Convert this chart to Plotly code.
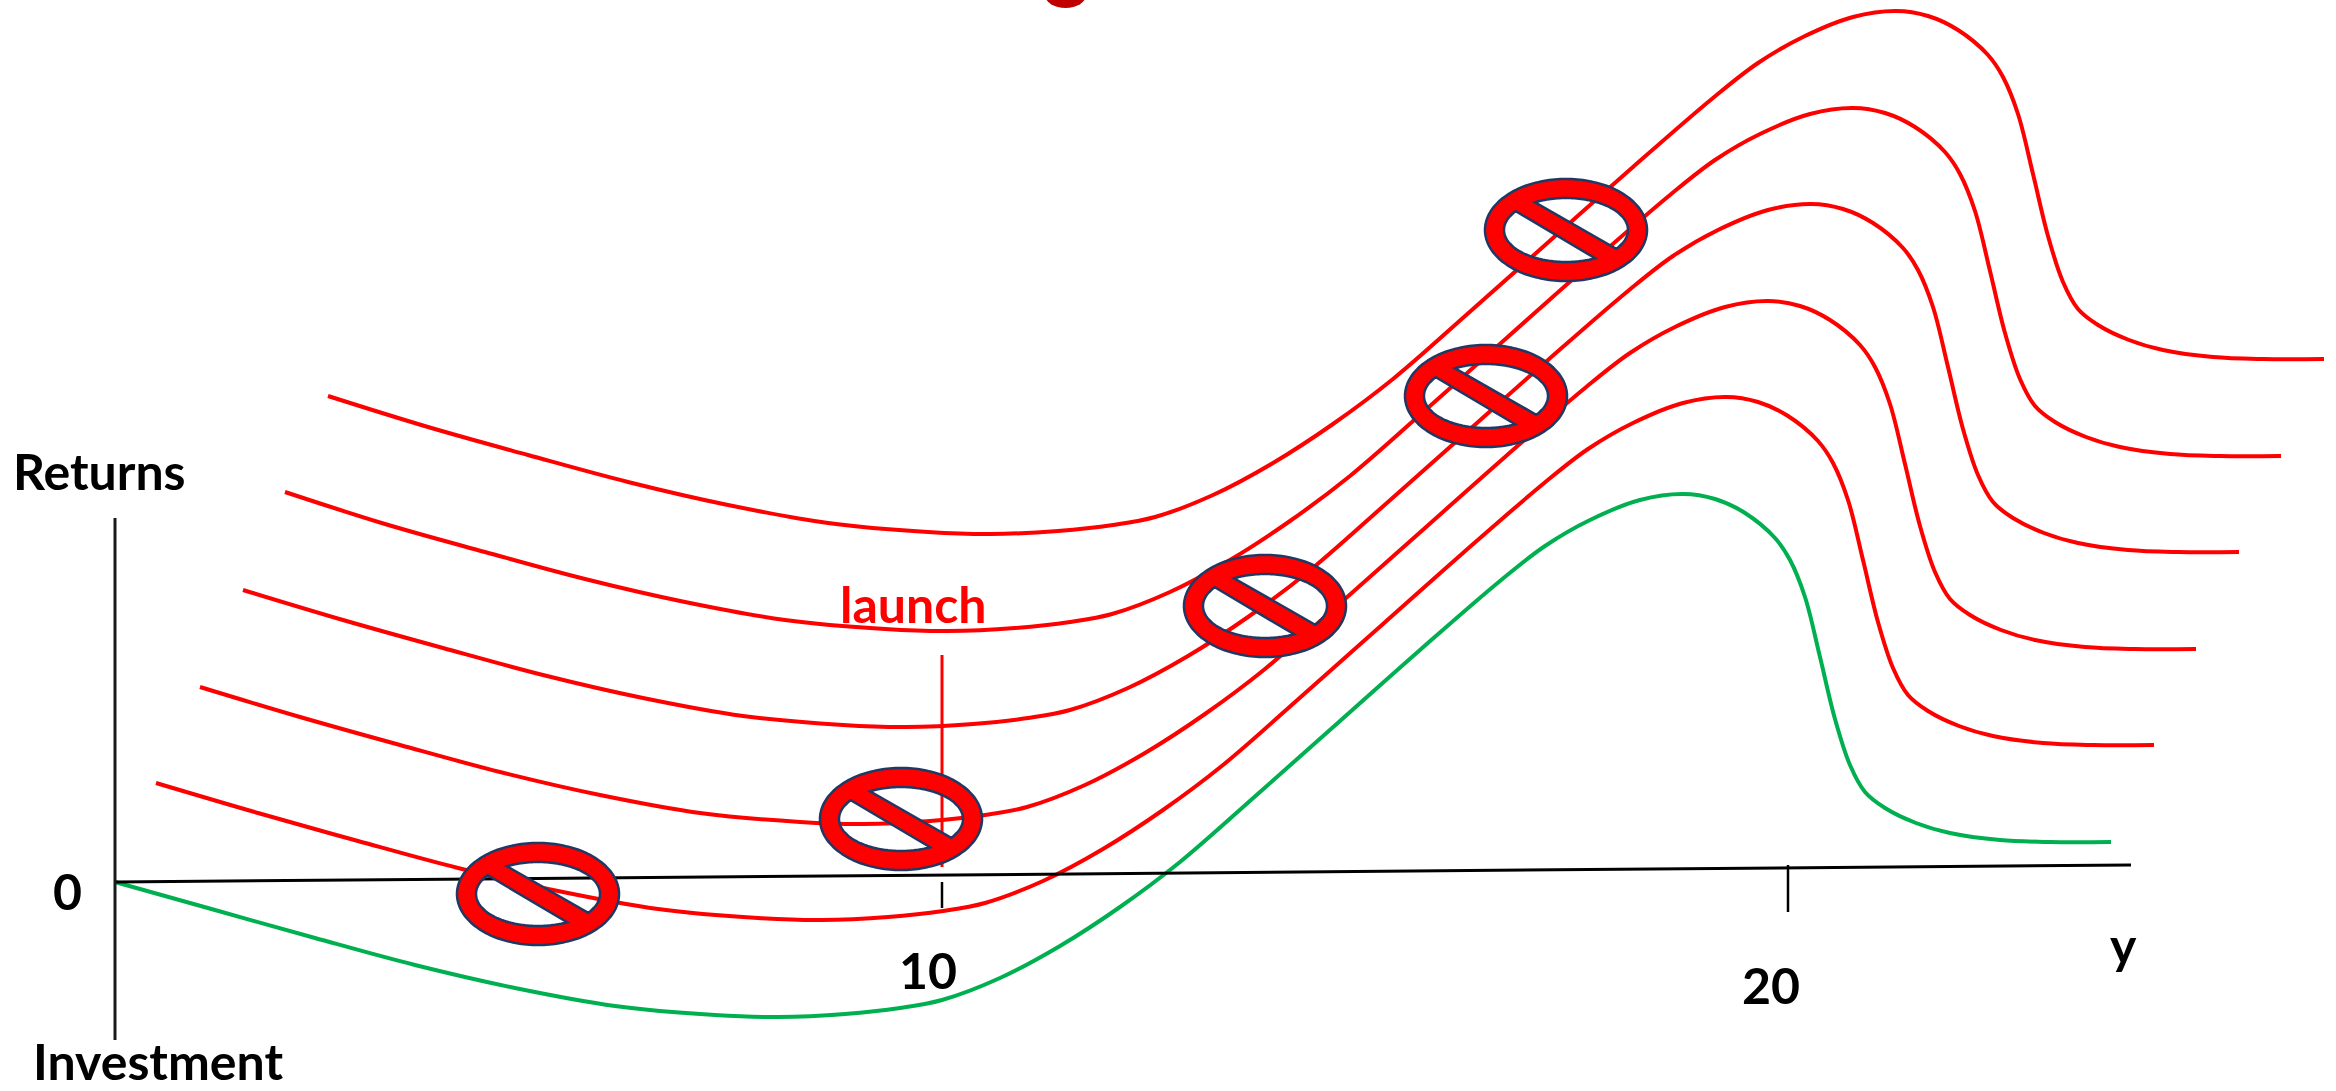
import numpy as np
import plotly.graph_objects as go

# Cash-flow curves: horizontal position along the time axis, value relative to the zero line.
green_x = [115, 215, 315, 415, 515, 615, 715, 778, 845, 900, 942, 1000, 1060, 1120, 1180, 1260, 1340, 1420, 1500, 1545, 1590, 1640, 1683, 1715, 1745, 1775, 1790, 1805, 1820, 1835, 1850, 1865, 1885, 1916, 1950, 2000, 2050, 2111]
green_y = [0, -28, -56, -83, -106, -124, -133, -135, -132, -126, -118, -96, -64, -25, 20, 90, 161, 232, 301, 336, 362, 382, 388, 383, 369, 344, 322, 285, 225, 163, 117, 90, 74, 59, 49, 42, 40, 40]

red1_x = [156, 258, 358, 458, 558, 658, 758, 821, 888, 943, 985, 1043, 1103, 1163, 1223, 1303, 1383, 1463, 1543, 1588, 1633, 1683, 1726, 1758, 1788, 1818, 1833, 1848, 1863, 1878, 1893, 1908, 1928, 1959, 1993, 2043, 2093, 2154]
red1_y = [99, 69, 41, 14, -9, -27, -36, -38, -35, -29, -21, 1, 33, 72, 117, 187, 258, 329, 398, 433, 459, 479, 485, 480, 466, 441, 419, 382, 322, 260, 214, 187, 171, 156, 146, 139, 137, 137]

red2_x = [200, 300, 400, 500, 600, 700, 800, 863, 930, 985, 1027, 1085, 1145, 1205, 1265, 1345, 1425, 1505, 1585, 1630, 1675, 1725, 1768, 1800, 1830, 1860, 1875, 1890, 1905, 1920, 1935, 1950, 1970, 2001, 2035, 2085, 2135, 2196]
red2_y = [195, 165, 137, 110, 87, 69, 60, 58, 61, 67, 75, 97, 129, 168, 213, 283, 354, 425, 494, 529, 555, 575, 581, 576, 562, 537, 515, 478, 418, 356, 310, 283, 267, 252, 242, 235, 233, 233]

red3_x = [243, 343, 443, 543, 643, 743, 843, 906, 973, 1028, 1070, 1128, 1188, 1248, 1308, 1388, 1468, 1548, 1628, 1673, 1718, 1768, 1811, 1843, 1873, 1903, 1918, 1933, 1948, 1963, 1978, 1993, 2013, 2044, 2078, 2128, 2178, 2239]
red3_y = [292, 262, 234, 207, 184, 166, 157, 155, 158, 164, 172, 194, 226, 265, 310, 380, 451, 522, 591, 626, 652, 672, 678, 673, 659, 634, 612, 575, 515, 453, 407, 380, 364, 349, 339, 332, 330, 330]

red4_x = [285, 385, 485, 585, 685, 785, 885, 948, 1015, 1070, 1112, 1170, 1230, 1290, 1350, 1430, 1510, 1590, 1670, 1715, 1760, 1810, 1853, 1885, 1915, 1945, 1960, 1975, 1990, 2005, 2020, 2035, 2055, 2086, 2120, 2170, 2220, 2281]
red4_y = [390, 358, 330, 303, 280, 262, 253, 251, 254, 260, 268, 290, 322, 361, 406, 476, 547, 618, 687, 722, 748, 768, 774, 769, 755, 730, 708, 671, 611, 549, 503, 476, 460, 445, 435, 428, 426, 426]

red5_x = [328, 428, 528, 628, 728, 828, 928, 991, 1058, 1113, 1155, 1213, 1273, 1333, 1393, 1473, 1553, 1633, 1713, 1758, 1803, 1853, 1896, 1928, 1958, 1988, 2003, 2018, 2033, 2048, 2063, 2078, 2098, 2129, 2163, 2213, 2263, 2324]
red5_y = [486, 455, 427, 400, 377, 359, 350, 348, 351, 357, 365, 387, 419, 458, 503, 573, 644, 715, 784, 819, 845, 865, 871, 866, 852, 827, 805, 768, 708, 646, 600, 573, 557, 542, 532, 525, 523, 523]

# Axes, ticks and the launch marker.
baseline_x = [115, 2131]
baseline_y = [0, 17]
vertical_x = [115, 115]
vertical_y = [364, -158]
tick10_x = [942, 942]
tick10_y = [0, -26]
tick20_x = [1788, 1788]
tick20_y = [17, -30]
launch_x = [942, 942]
launch_y = [227, 15]

# Centres of the prohibition signs.
sign_x = [538, 901, 1265, 1486, 1566]
sign_y = [-12, 63, 276, 486, 652]

# Text labels.
label_text = ["Returns", "Investment", "0", "10", "20", "y", "launch"]
label_x = [99, 158, 67, 928, 1771, 2123, 913]
label_y = [411, -179, -9, -88, -103, -63, 278]
label_color = ["black", "black", "black", "black", "black", "black", "#FF0000"]

RED = "#FF0000"
GREEN = "#00B050"
NAVY = "#203864"

fig = go.Figure()

curves = [
    (green_x, green_y, GREEN),
    (red1_x, red1_y, RED),
    (red2_x, red2_y, RED),
    (red3_x, red3_y, RED),
    (red4_x, red4_y, RED),
    (red5_x, red5_y, RED),
]
for cx, cy, colour in curves:
    fig.add_trace(go.Scatter(x=cx, y=cy, mode="lines",
                             line=dict(color=colour, width=4, shape="spline", smoothing=1.0)))

straight = [
    (launch_x, launch_y, RED, 3),
    (baseline_x, baseline_y, "black", 3),
    (vertical_x, vertical_y, "#1a1a1a", 3),
    (tick10_x, tick10_y, "black", 2.5),
    (tick20_x, tick20_y, "black", 2.5),
]
for sx, sy, colour, w in straight:
    fig.add_trace(go.Scatter(x=sx, y=sy, mode="lines", line=dict(color=colour, width=w)))


def sign_path(cx, cy):
    """Ring plus diagonal bar as one even-odd path, so the curves show through the two openings."""
    t = np.linspace(0, 2 * np.pi, 180, endpoint=False)
    outer = np.c_[81 * np.cos(t), 51 * np.sin(t)]
    inner = np.c_[62 * np.cos(t), 32 * np.sin(t)]
    # s measures the side of the bar, with y pointing up here and the bar falling to the right.
    s = -inner[:, 1] - 0.585 * inner[:, 0]
    parts = [outer]
    for keep in (s < -9.5, s > 10):
        first = np.where(keep & ~np.roll(keep, 1))[0][0]
        order = np.roll(np.arange(len(t)), -first)
        parts.append(inner[order][keep[order]])
    d = ""
    for p in parts:
        d += "M" + "L".join(f"{cx + a:.1f},{cy + b:.1f}" for a, b in p) + "Z"
    return d


shapes = [
    dict(type="path", xref="x", yref="y", path=sign_path(a, b), fillcolor=RED,
         line=dict(color=NAVY, width=2.5), layer="above")
    for a, b in zip(sign_x, sign_y)
]
# Descender of the heading that runs off the top edge.
shapes.append(dict(type="circle", xref="x", yref="y", x0=1045, x1=1086, y0=874, y1=900,
                   fillcolor="#C00000", line=dict(width=0), layer="above"))

annotations = [
    dict(x=a, y=b, text=t, xref="x", yref="y", showarrow=False,
         font=dict(family="Lato", size=50, color=c, weight="bold"))
    for t, a, b, c in zip(label_text, label_x, label_y, label_color)
]

fig.update_layout(
    width=2336, height=1091,
    margin=dict(l=0, r=0, t=0, b=0),
    paper_bgcolor="white", plot_bgcolor="white",
    showlegend=False, hovermode=False,
    shapes=shapes, annotations=annotations,
    xaxis=dict(range=[0, 2336], visible=False, fixedrange=True),
    yaxis=dict(range=[-209, 882], visible=False, fixedrange=True),
)
fig.write_html("out.html", config=dict(displayModeBar=False))
